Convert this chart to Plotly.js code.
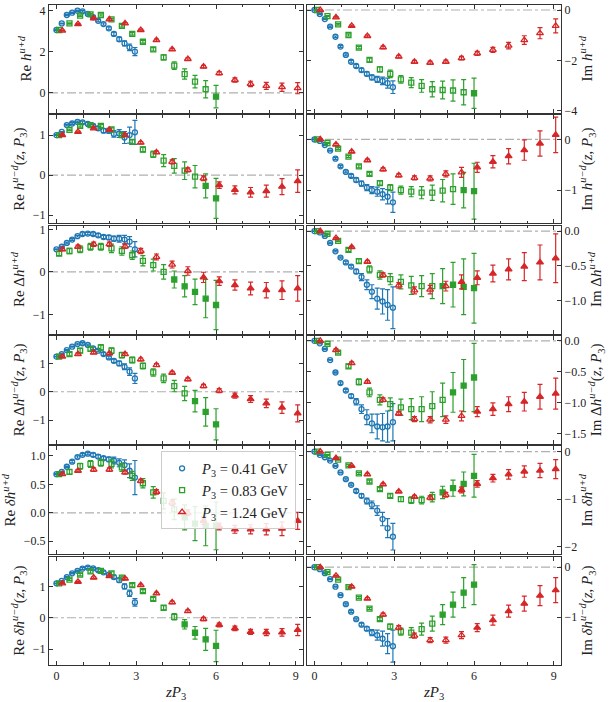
<!DOCTYPE html>
<html>
<head>
<meta charset="utf-8">
<script src="https://cdn.plot.ly/plotly-3.0.1.min.js"></script>
<style>
  html, body { margin: 0; padding: 0; background: #fff; }
  #chart { width: 613px; height: 702px; }
</style>
</head>
<body>
<div id="chart"></div>
<script>
// zP3 for the three momenta (small shifts as in the figure)
const zBlue  = [0, 0.2, 0.39, 0.59, 0.79, 0.98, 1.18, 1.38, 1.57, 1.77, 1.97, 2.16, 2.36, 2.56, 2.75, 2.95]
const zGreen = [0.1, 0.49, 0.89, 1.28, 1.67, 2.07, 2.46, 2.85, 3.25, 3.64, 4.03, 4.43, 4.82, 5.21, 5.61, 6.0]
const zRed   = [0.22, 0.81, 1.4, 1.99, 2.58, 3.17, 3.76, 4.35, 4.94, 5.53, 6.12, 6.71, 7.3, 7.89, 8.48, 9.07]

const seriesLabels = ['<i>P</i><sub>3</sub> = 0.41 GeV', '<i>P</i><sub>3</sub> = 0.83 GeV', '<i>P</i><sub>3</sub> = 1.24 GeV']

// each panel: [blue, green, red]
const reHud = [
    [3.06, 3.38, 3.79, 3.9, 4.0, 3.97, 3.84, 3.68, 3.51, 3.35, 3.14, 2.87, 2.61, 2.41, 2.22, 2.01],
    [3.06, 3.38, 3.76, 3.82, 3.79, 3.58, 3.26, 2.87, 2.49, 2.12, 1.73, 1.33, 0.92, 0.55, 0.18, -0.18],
    [3.03, 3.35, 3.63, 3.58, 3.38, 3.06, 2.57, 2.12, 1.65, 1.28, 0.96, 0.63, 0.44, 0.34, 0.28, 0.23]]
const reHudErr = [
    [0.02, 0.02, 0.03, 0.03, 0.03, 0.04, 0.04, 0.05, 0.05, 0.06, 0.07, 0.08, 0.1, 0.12, 0.16, 0.2],
    [0.02, 0.03, 0.04, 0.05, 0.05, 0.05, 0.06, 0.06, 0.07, 0.08, 0.12, 0.18, 0.25, 0.3, 0.42, 0.55],
    [0.02, 0.03, 0.03, 0.04, 0.04, 0.04, 0.05, 0.05, 0.06, 0.06, 0.08, 0.1, 0.13, 0.17, 0.2, 0.27]]

const imHud = [
    [0, -0.16, -0.36, -0.66, -1.06, -1.45, -1.78, -2.05, -2.22, -2.38, -2.53, -2.67, -2.75, -2.81, -2.9, -3.06],
    [0, -0.24, -0.57, -0.99, -1.49, -1.98, -2.35, -2.53, -2.75, -2.88, -3.01, -3.14, -3.17, -3.19, -3.26, -3.3],
    [0, -0.29, -0.63, -1.03, -1.48, -1.85, -2.05, -2.09, -2.05, -1.91, -1.72, -1.58, -1.41, -1.19, -0.92, -0.63]]
const imHudErr = [
    [0.01, 0.02, 0.02, 0.03, 0.03, 0.04, 0.04, 0.05, 0.06, 0.07, 0.08, 0.1, 0.12, 0.15, 0.2, 0.25],
    [0.01, 0.02, 0.03, 0.04, 0.05, 0.07, 0.1, 0.15, 0.15, 0.2, 0.25, 0.3, 0.35, 0.42, 0.5, 0.6],
    [0.01, 0.03, 0.03, 0.04, 0.05, 0.05, 0.05, 0.06, 0.06, 0.07, 0.08, 0.1, 0.13, 0.17, 0.22, 0.28]]

const reHumd = [
    [1.0, 1.08, 1.25, 1.29, 1.33, 1.32, 1.28, 1.23, 1.17, 1.11, 1.11, 1.03, 1.04, 0.94, 1.0, 1.07],
    [1.0, 1.13, 1.23, 1.25, 1.23, 1.14, 1.0, 0.83, 0.64, 0.52, 0.36, 0.23, 0.11, -0.04, -0.27, -0.58],
    [1.0, 1.08, 1.17, 1.13, 1.0, 0.81, 0.57, 0.33, 0.13, -0.08, -0.25, -0.37, -0.43, -0.4, -0.29, -0.15]]
const reHumdErr = [
    [0.01, 0.01, 0.02, 0.02, 0.02, 0.03, 0.03, 0.04, 0.05, 0.05, 0.06, 0.08, 0.1, 0.15, 0.2, 0.3],
    [0.01, 0.02, 0.03, 0.03, 0.04, 0.04, 0.05, 0.05, 0.06, 0.08, 0.15, 0.18, 0.22, 0.28, 0.3, 0.5],
    [0.01, 0.02, 0.02, 0.02, 0.03, 0.03, 0.03, 0.05, 0.05, 0.06, 0.08, 0.1, 0.12, 0.15, 0.2, 0.28]]

const imHumd = [
    [0, -0.03, -0.11, -0.22, -0.38, -0.53, -0.64, -0.72, -0.8, -0.87, -0.95, -1.0, -1.03, -1.08, -1.13, -1.24],
    [0, -0.07, -0.18, -0.34, -0.53, -0.68, -0.86, -0.95, -1.0, -1.03, -1.05, -1.05, -1.01, -0.98, -1.0, -1.02],
    [0, -0.1, -0.24, -0.41, -0.59, -0.71, -0.76, -0.77, -0.68, -0.65, -0.55, -0.44, -0.33, -0.21, -0.08, 0.09]]
const imHumdErr = [
    [0.01, 0.01, 0.01, 0.01, 0.02, 0.02, 0.02, 0.03, 0.04, 0.05, 0.06, 0.07, 0.09, 0.11, 0.14, 0.2],
    [0.01, 0.01, 0.02, 0.02, 0.03, 0.03, 0.04, 0.06, 0.08, 0.1, 0.12, 0.15, 0.22, 0.3, 0.35, 0.55],
    [0.01, 0.02, 0.02, 0.02, 0.03, 0.03, 0.04, 0.05, 0.06, 0.1, 0.1, 0.12, 0.15, 0.2, 0.25, 0.35]]

const reDHud = [
    [0.53, 0.59, 0.68, 0.76, 0.84, 0.89, 0.9, 0.89, 0.86, 0.82, 0.81, 0.78, 0.78, 0.76, 0.71, 0.53],
    [0.43, 0.49, 0.53, 0.59, 0.59, 0.55, 0.49, 0.39, 0.26, 0.16, 0.0, -0.18, -0.34, -0.47, -0.63, -0.78],
    [0.53, 0.59, 0.65, 0.65, 0.6, 0.49, 0.35, 0.17, 0.02, -0.13, -0.22, -0.31, -0.39, -0.43, -0.43, -0.39]]
const reDHudErr = [
    [0.01, 0.01, 0.02, 0.02, 0.02, 0.03, 0.03, 0.03, 0.04, 0.04, 0.05, 0.06, 0.08, 0.1, 0.12, 0.18],
    [0.05, 0.06, 0.08, 0.08, 0.08, 0.1, 0.1, 0.1, 0.12, 0.14, 0.17, 0.2, 0.25, 0.3, 0.45, 0.58],
    [0.03, 0.04, 0.05, 0.05, 0.05, 0.06, 0.07, 0.08, 0.1, 0.12, 0.1, 0.12, 0.15, 0.18, 0.22, 0.3]]

const imDHud = [
    [0, -0.02, -0.07, -0.17, -0.29, -0.38, -0.45, -0.51, -0.58, -0.66, -0.77, -0.87, -0.97, -1.01, -1.06, -1.1],
    [0, -0.04, -0.14, -0.27, -0.43, -0.55, -0.63, -0.69, -0.73, -0.78, -0.79, -0.79, -0.79, -0.77, -0.8, -0.82],
    [0, -0.1, -0.23, -0.44, -0.63, -0.78, -0.85, -0.84, -0.79, -0.73, -0.67, -0.61, -0.55, -0.51, -0.45, -0.39]]
const imDHudErr = [
    [0.005, 0.005, 0.01, 0.01, 0.01, 0.01, 0.02, 0.02, 0.03, 0.05, 0.07, 0.1, 0.15, 0.18, 0.22, 0.3],
    [0.005, 0.01, 0.01, 0.02, 0.03, 0.05, 0.06, 0.08, 0.1, 0.13, 0.15, 0.18, 0.25, 0.32, 0.4, 0.5],
    [0.005, 0.01, 0.01, 0.02, 0.03, 0.04, 0.05, 0.06, 0.07, 0.1, 0.1, 0.12, 0.15, 0.2, 0.25, 0.35]]

const reDHumd = [
    [1.24, 1.33, 1.47, 1.59, 1.68, 1.71, 1.65, 1.53, 1.45, 1.33, 1.21, 1.09, 1.0, 0.88, 0.71, 0.47],
    [1.24, 1.33, 1.45, 1.51, 1.56, 1.45, 1.29, 1.12, 0.91, 0.68, 0.47, 0.2, -0.06, -0.33, -0.71, -1.15],
    [1.24, 1.33, 1.38, 1.35, 1.33, 1.14, 0.94, 0.67, 0.44, 0.2, 0.04, -0.14, -0.26, -0.41, -0.56, -0.76]]
const reDHumdErr = [
    [0.01, 0.02, 0.02, 0.02, 0.03, 0.03, 0.03, 0.04, 0.04, 0.05, 0.05, 0.06, 0.08, 0.1, 0.13, 0.18],
    [0.05, 0.06, 0.08, 0.08, 0.1, 0.1, 0.1, 0.1, 0.1, 0.13, 0.15, 0.2, 0.25, 0.38, 0.5, 0.55],
    [0.03, 0.04, 0.04, 0.04, 0.05, 0.05, 0.05, 0.05, 0.05, 0.06, 0.07, 0.09, 0.12, 0.15, 0.2, 0.3]]

const imDHumd = [
    [0, -0.04, -0.13, -0.31, -0.51, -0.68, -0.8, -0.89, -0.98, -1.1, -1.23, -1.33, -1.38, -1.39, -1.38, -1.31],
    [0, -0.05, -0.19, -0.41, -0.66, -0.83, -0.95, -1.02, -1.07, -1.1, -1.1, -1.05, -0.95, -0.83, -0.72, -0.59],
    [0, -0.15, -0.36, -0.66, -0.95, -1.17, -1.26, -1.27, -1.27, -1.21, -1.14, -1.1, -1.02, -0.98, -0.9, -0.85]]
const imDHumdErr = [
    [0.005, 0.01, 0.01, 0.01, 0.01, 0.02, 0.02, 0.03, 0.05, 0.07, 0.12, 0.15, 0.2, 0.22, 0.25, 0.3],
    [0.005, 0.01, 0.02, 0.03, 0.05, 0.07, 0.08, 0.1, 0.13, 0.17, 0.2, 0.23, 0.27, 0.32, 0.42, 0.55],
    [0.005, 0.02, 0.02, 0.02, 0.03, 0.03, 0.04, 0.05, 0.06, 0.08, 0.08, 0.1, 0.12, 0.15, 0.2, 0.25]]

const reTHud = [
    [0.68, 0.72, 0.81, 0.9, 0.98, 1.02, 1.04, 1.02, 0.99, 0.96, 0.94, 0.92, 0.88, 0.84, 0.74, 0.62],
    [0.68, 0.72, 0.82, 0.86, 0.88, 0.86, 0.8, 0.65, 0.52, 0.36, 0.21, 0.06, -0.08, -0.19, -0.23, -0.23],
    [0.68, 0.74, 0.76, 0.76, 0.71, 0.56, 0.37, 0.18, 0.0, -0.14, -0.24, -0.29, -0.29, -0.29, -0.28, -0.14]]
const reTHudErr = [
    [0.01, 0.01, 0.01, 0.02, 0.02, 0.02, 0.02, 0.03, 0.03, 0.03, 0.04, 0.06, 0.07, 0.09, 0.12, 0.3],
    [0.03, 0.04, 0.05, 0.06, 0.06, 0.07, 0.07, 0.08, 0.08, 0.1, 0.14, 0.18, 0.22, 0.3, 0.35, 0.42],
    [0.02, 0.02, 0.03, 0.03, 0.03, 0.03, 0.04, 0.05, 0.05, 0.07, 0.06, 0.07, 0.08, 0.1, 0.12, 0.15]]

const imTHud = [
    [0, -0.07, -0.12, -0.19, -0.3, -0.44, -0.58, -0.7, -0.83, -0.93, -1.04, -1.12, -1.24, -1.42, -1.61, -1.79],
    [0, -0.07, -0.17, -0.29, -0.46, -0.63, -0.79, -0.93, -1.0, -1.02, -1.02, -0.96, -0.86, -0.77, -0.68, -0.51],
    [0, -0.14, -0.3, -0.48, -0.69, -0.84, -0.95, -0.97, -0.91, -0.81, -0.68, -0.56, -0.48, -0.42, -0.4, -0.37]]
const imTHudErr = [
    [0.005, 0.01, 0.01, 0.01, 0.01, 0.01, 0.02, 0.02, 0.03, 0.04, 0.06, 0.08, 0.1, 0.14, 0.2, 0.28],
    [0.005, 0.01, 0.01, 0.02, 0.02, 0.03, 0.03, 0.04, 0.05, 0.07, 0.08, 0.1, 0.13, 0.17, 0.25, 0.45],
    [0.005, 0.01, 0.01, 0.02, 0.02, 0.02, 0.03, 0.04, 0.05, 0.06, 0.07, 0.08, 0.1, 0.12, 0.15, 0.2]]

const reTHumd = [
    [1.1, 1.18, 1.3, 1.42, 1.5, 1.57, 1.6, 1.58, 1.52, 1.45, 1.38, 1.3, 1.2, 1.0, 0.78, 0.49],
    [1.1, 1.22, 1.38, 1.48, 1.5, 1.42, 1.28, 1.04, 0.85, 0.6, 0.32, 0.03, -0.21, -0.48, -0.69, -0.9],
    [1.1, 1.15, 1.28, 1.33, 1.25, 1.04, 0.78, 0.49, 0.21, -0.04, -0.23, -0.34, -0.45, -0.47, -0.47, -0.39]]
const reTHumdErr = [
    [0.01, 0.01, 0.02, 0.02, 0.02, 0.03, 0.03, 0.03, 0.04, 0.04, 0.05, 0.06, 0.07, 0.08, 0.1, 0.12],
    [0.02, 0.03, 0.04, 0.05, 0.05, 0.05, 0.05, 0.05, 0.05, 0.05, 0.07, 0.1, 0.15, 0.2, 0.35, 0.5],
    [0.02, 0.02, 0.03, 0.03, 0.03, 0.03, 0.03, 0.04, 0.04, 0.05, 0.06, 0.07, 0.08, 0.1, 0.12, 0.18]]

const imTHumd = [
    [0, -0.04, -0.12, -0.24, -0.39, -0.56, -0.74, -0.89, -1.04, -1.15, -1.23, -1.31, -1.36, -1.43, -1.53, -1.58],
    [0, -0.1, -0.25, -0.4, -0.61, -0.83, -1.04, -1.19, -1.29, -1.31, -1.24, -1.13, -0.95, -0.75, -0.51, -0.35],
    [0, -0.17, -0.39, -0.63, -0.95, -1.21, -1.37, -1.46, -1.46, -1.36, -1.21, -1.06, -0.88, -0.73, -0.57, -0.46]]
const imTHumdErr = [
    [0.005, 0.01, 0.01, 0.01, 0.01, 0.01, 0.02, 0.02, 0.02, 0.03, 0.04, 0.06, 0.1, 0.15, 0.2, 0.32],
    [0.005, 0.01, 0.01, 0.02, 0.02, 0.02, 0.03, 0.05, 0.07, 0.1, 0.12, 0.15, 0.2, 0.25, 0.3, 0.4],
    [0.005, 0.01, 0.02, 0.02, 0.03, 0.04, 0.05, 0.05, 0.06, 0.07, 0.08, 0.1, 0.12, 0.15, 0.2, 0.25]]


const zSets = [zBlue, zGreen, zRed]
const colors = ['#1f77b4', '#2ca02c', '#d62728']
const symbols = ['circle', 'square', 'triangle-up']

const sup = (s) => '<sup><i>' + s + '</i></sup>'
const zArg = '(<i>z</i>, <i>P</i><sub>3</sub>)'

// panel setup, row by row (left = Re, right = Im)
// fill: index from which the marker is drawn filled (blue, green, red)
const panels = [
    {v: reHud,    e: reHudErr,    fill: [16, 15, 16], range: [-0.96, 4.29], ticks: [0, 2, 4],            fmt: 'd',   title: 'Re <i>h</i>' + sup('u+d')},
    {v: imHud,    e: imHudErr,    fill: [16, 15, 16], range: [-4.07, 0.21], ticks: [-4, -2, 0],          fmt: 'd',   title: 'Im <i>h</i>' + sup('u+d')},
    {v: reHumd,   e: reHumdErr,   fill: [16, 14, 10], range: [-1.2, 1.5],   ticks: [-1, 0, 1],           fmt: 'd',   title: 'Re <i>h</i>' + sup('u−d') + zArg},
    {v: imHumd,   e: imHumdErr,   fill: [16, 14, 10], range: [-1.65, 0.48], ticks: [-1, 0],              fmt: 'd',   title: 'Im <i>h</i>' + sup('u−d') + zArg},
    {v: reDHud,   e: reDHudErr,   fill: [16, 11, 9],  range: [-1.45, 1.09], ticks: [-1, 0, 1],           fmt: 'd',   title: 'Re Δ<i>h</i>' + sup('u+d')},
    {v: imDHud,   e: imDHudErr,   fill: [16, 12, 9],  range: [-1.47, 0.08], ticks: [-1, -0.5, 0],        fmt: '.1f', title: 'Im Δ<i>h</i>' + sup('u+d')},
    {v: reDHumd,  e: reDHumdErr,  fill: [16, 13, 11], range: [-1.84, 1.97], ticks: [-1, 0, 1],           fmt: 'd',   title: 'Re Δ<i>h</i>' + sup('u−d') + zArg},
    {v: imDHumd,  e: imDHumdErr,  fill: [16, 13, 10], range: [-1.66, 0.08], ticks: [-1.5, -1, -0.5, 0],  fmt: '.1f', title: 'Im Δ<i>h</i>' + sup('u−d') + zArg},
    {v: reTHud,   e: reTHudErr,   fill: [16, 12, 9],  range: [-0.73, 1.17], ticks: [-0.5, 0, 0.5, 1],    fmt: '.1f', title: 'Re <i>δh</i>' + sup('u+d')},
    {v: imTHud,   e: imTHudErr,   fill: [16, 12, 9],  range: [-2.16, 0.11], ticks: [-2, -1, 0],          fmt: 'd',   title: 'Im <i>δh</i>' + sup('u+d')},
    {v: reTHumd,  e: reTHumdErr,  fill: [16, 12, 10], range: [-1.5, 1.95],  ticks: [-1, 0, 1],           fmt: 'd',   title: 'Re <i>δh</i>' + sup('u−d') + zArg},
    {v: imTHumd,  e: imTHumdErr,  fill: [16, 12, 10], range: [-1.95, 0.21], ticks: [-1, 0],              fmt: 'd',   title: 'Im <i>δh</i>' + sup('u−d') + zArg},
]

const W = 613, H = 702
const colX = [[49, 303], [307, 561]]   // px
const rowTop0 = 4.7, rowStep = 110.4, rowH = 108

const fam = 'Liberation Serif, DejaVu Serif, serif'

let traces = []
let layout = {
    width: W, height: H,
    margin: {l: 0, r: 0, t: 0, b: 0},
    paper_bgcolor: '#fff',
    plot_bgcolor: '#fff',
    font: {family: fam, size: 12, color: '#222'},
    showlegend: true,
    legend: {
        x: 0.483, xanchor: 'right', y: 0.357, yanchor: 'top',
        bgcolor: 'rgba(255,255,255,0.85)', bordercolor: '#cccccc', borderwidth: 1,
        font: {family: fam, size: 14.5, color: '#222'},
        tracegroupgap: 0, itemwidth: 30,
    },
    shapes: [],
}

panels.forEach((p, k) => {

    let row = Math.floor(k/2)
    let col = k%2
    let n = k+1
    let xa = n === 1 ? 'x' : 'x'+n
    let ya = n === 1 ? 'y' : 'y'+n
    let xKey = n === 1 ? 'xaxis' : 'xaxis'+n
    let yKey = n === 1 ? 'yaxis' : 'yaxis'+n

    let top = rowTop0 + row*rowStep
    let bottom = top + rowH

    layout[xKey] = {
        domain: [colX[col][0]/W, colX[col][1]/W],
        anchor: ya,
        range: [-0.28, 9.27],
        tickvals: [0, 3, 6, 9],
        showticklabels: row === 5,
        ticks: 'inside', ticklen: 4, tickcolor: '#333', tickwidth: 1,
        minor: {dtick: 1, ticks: 'inside', ticklen: 2.5, tickcolor: '#333'},
        showline: true, linecolor: '#333', linewidth: 1, mirror: 'ticks',
        showgrid: false, zeroline: false, automargin: false,
        tickfont: {family: fam, size: 12, color: '#222'},
    }
    if (row === 5) {
        layout[xKey].title = {text: '<i>zP</i><sub>3</sub>', font: {family: fam, size: 15, color: '#222'}, standoff: 4}
    }

    layout[yKey] = {
        domain: [1 - bottom/H, 1 - top/H],
        anchor: xa,
        side: col === 0 ? 'left' : 'right',
        range: p.range,
        tickvals: p.ticks,
        tickformat: p.fmt,
        ticks: 'inside', ticklen: 4, tickcolor: '#333', tickwidth: 1,
        showline: true, linecolor: '#333', linewidth: 1, mirror: 'ticks',
        showgrid: false, zeroline: false, automargin: false,
        tickfont: {family: fam, size: 12, color: '#222'},
        title: {text: p.title, font: {family: fam, size: 15, color: '#222'}, standoff: 4},
    }

    // dash-dot zero line
    layout.shapes.push({
        type: 'line', xref: xa + ' domain', yref: ya,
        x0: 0, x1: 1, y0: 0, y1: 0,
        line: {color: '#b0b0b0', width: 1.2, dash: 'dashdot'},
        layer: 'below',
    })

    for (let s = 0; s < 3; s++) {

        let sym = p.v[s].map((_, i) => i >= p.fill[s] ? symbols[s] : symbols[s] + '-open')

        traces.push({
            x: zSets[s],
            y: p.v[s],
            xaxis: xa, yaxis: ya,
            type: 'scatter',
            mode: 'markers',
            name: seriesLabels[s],
            showlegend: k === 8,
            marker: {
                symbol: sym,
                size: s === 2 ? 6 : 5,
                color: colors[s],
                line: {color: colors[s], width: 1.3},
            },
            error_y: {
                type: 'data', array: p.e[s], visible: true,
                color: colors[s], thickness: 1.2, width: 2.5,
            },
        })
    }
})

Plotly.newPlot('chart', traces, layout, {displayModeBar: false, staticPlot: true})
</script>
</body>
</html>
